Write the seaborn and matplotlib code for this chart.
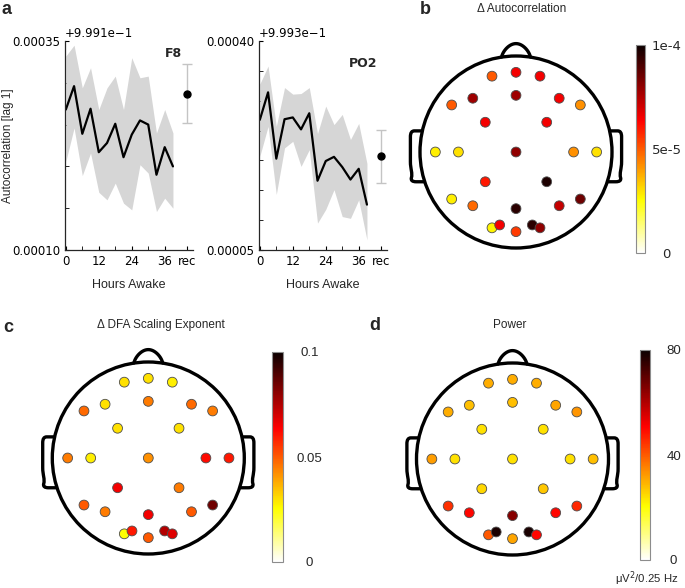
import numpy as np
import matplotlib
matplotlib.use("Agg")
import matplotlib.pyplot as plt
import seaborn as sns
from matplotlib.patches import Circle, PathPatch
from matplotlib.path import Path
from matplotlib.ticker import FixedLocator, ScalarFormatter, MultipleLocator
from matplotlib.colors import Normalize
from matplotlib.cm import ScalarMappable

W, H = 685, 588

# ---- panel a: autocorrelation over hours awake (values relative to offset) ----
hours = [0, 3, 6, 9, 12, 15, 18, 21, 24, 27, 30, 33, 36, 39]
rec_hour = 44

F8_BASE = 0.9991
f8_mean = [0.000268, 0.000296, 0.000239, 0.000269, 0.000217, 0.000228, 0.000251,
           0.000211, 0.000238, 0.000255, 0.000250, 0.000190, 0.000223, 0.000200]
f8_upper = [0.000332, 0.000345, 0.000294, 0.000318, 0.000268, 0.000294, 0.000308,
            0.000268, 0.000330, 0.000306, 0.000308, 0.000240, 0.000268, 0.000240]
f8_lower = [0.000206, 0.000246, 0.000189, 0.000216, 0.000169, 0.000160, 0.000180,
            0.000156, 0.000148, 0.000202, 0.000192, 0.000146, 0.000162, 0.000150]
f8_rec = 0.000287
f8_rec_err = 0.0000355

PO2_BASE = 0.9993
po2_mean = [0.000268, 0.000314, 0.000203, 0.000269, 0.000272, 0.000252, 0.000279,
            0.000166, 0.000199, 0.000206, 0.000189, 0.000168, 0.000186, 0.000126]
po2_upper = [0.000328, 0.000358, 0.000257, 0.000322, 0.000311, 0.000312, 0.000322,
             0.000245, 0.000291, 0.000260, 0.000277, 0.000235, 0.000262, 0.000195]
po2_lower = [0.000207, 0.000257, 0.000143, 0.000221, 0.000232, 0.000190, 0.000218,
             0.000095, 0.000118, 0.000151, 0.000106, 0.000103, 0.000134, 0.000067]
po2_rec = 0.000207
po2_rec_err = 0.0000445

x_ticks = [0, 12, 24, 36, 44]
x_ticklabels = ["0", "12", "24", "36", "rec"]
x_minor = [6, 18, 30]

# ---- topographic maps: electrode positions (head radius = 1) ----
elec_x = [-0.25, 0.0, 0.25, -0.67, -0.45, 0.0, 0.45, 0.67, -0.32, 0.32,
          -0.84, -0.60, 0.0, 0.60, 0.84, -0.32, 0.32, -0.67, -0.45, 0.0,
          0.45, 0.67, -0.25, -0.17, 0.0, 0.17, 0.25]
elec_y = [0.79, 0.83, 0.79, 0.49, 0.56, 0.59, 0.56, 0.49, 0.31, 0.31,
          0.0, 0.0, 0.0, 0.0, 0.0, -0.31, -0.31, -0.49, -0.56, -0.59,
          -0.56, -0.49, -0.79, -0.76, -0.83, -0.76, -0.79]

d_autocorr = [5.0e-5, 6.5e-5, 6.5e-5, 5.0e-5, 7.8e-5, 7.8e-5, 6.5e-5, 4.2e-5, 6.5e-5, 6.5e-5,
              2.8e-5, 3.0e-5, 8.0e-5, 4.2e-5, 3.0e-5, 6.0e-5, 9.7e-5, 2.8e-5, 4.8e-5, 9.5e-5,
              7.2e-5, 8.5e-5, 2.7e-5, 6.5e-5, 5.5e-5, 9.5e-5, 8.0e-5]
d_dfa = [0.030, 0.030, 0.028, 0.048, 0.030, 0.045, 0.048, 0.045, 0.030, 0.030,
         0.045, 0.028, 0.042, 0.062, 0.060, 0.065, 0.045, 0.050, 0.045, 0.065,
         0.050, 0.085, 0.025, 0.060, 0.050, 0.075, 0.068]
power = [30, 30, 30, 30, 28, 28, 31, 33, 24, 24,
         32, 24, 24, 24, 28, 25, 27, 45, 50, 65,
         50, 46, 40, 78, 31, 78, 50]

cb_autocorr_ticks = [0, 5e-5, 1e-4]
cb_autocorr_labels = ["0", "5e-5", "1e-4"]
cb_dfa_ticks = [0, 0.05, 0.1]
cb_dfa_labels = ["0", "0.05", "0.1"]
cb_power_ticks = [0, 40, 80]
cb_power_labels = ["0", "40", "80"]

sns.set_style("ticks")
plt.rcParams.update({
    "xtick.direction": "in",
    "ytick.direction": "in",
    "axes.linewidth": 0.9,
    "xtick.major.size": 3, "ytick.major.size": 3,
    "xtick.minor.size": 3, "ytick.minor.size": 3,
})
plt.rcParams["font.family"] = ["DejaVu Sans"]
LABEL_FONT = "Liberation Sans"

fig = plt.figure(figsize=(W / 100, H / 100), dpi=100)


def px_axes(x0, y0, x1, y1):
    return fig.add_axes([x0 / W, 1 - y1 / H, (x1 - x0) / W, (y1 - y0) / H])


def line_panel(ax, base, mean, lower, upper, rec, rec_err, name, name_pos, ylims):
    ax.fill_between(hours, base + np.array(lower), base + np.array(upper),
                    color="#d6d6d6", linewidth=0)
    sns.lineplot(x=hours, y=base + np.array(mean), color="black", linewidth=1.6, ax=ax)
    ax.errorbar(rec_hour, base + rec, yerr=rec_err, fmt="o", color="black", ms=5,
                ecolor="#c4c4c4", elinewidth=1, capsize=3.5)
    ax.set_xlim(-0.3, 46.3)
    ax.set_ylim(base + ylims[0], base + ylims[1])
    ax.xaxis.set_major_locator(FixedLocator(x_ticks))
    ax.set_xticklabels(x_ticklabels)
    ax.xaxis.set_minor_locator(FixedLocator(x_minor))
    ax.yaxis.set_major_locator(FixedLocator([base + ylims[0], base + ylims[1]]))
    ax.yaxis.set_minor_locator(MultipleLocator(0.00005))
    ax.yaxis.set_major_formatter(ScalarFormatter(useOffset=base))
    ax.tick_params(which="both", labelsize=8.5, colors="black")
    ax.yaxis.get_offset_text().set_fontsize(8.5)
    sns.despine(ax=ax)
    ax.set_xlabel("Hours Awake", family=LABEL_FONT, fontsize=9)
    ax.xaxis.set_label_coords(0.5, -0.14)
    ax.text(name_pos[0], name_pos[1], name, transform=ax.transAxes, ha="center",
            va="center", fontsize=9, fontweight="bold")


ax_f8 = px_axes(65, 41, 193, 250)
line_panel(ax_f8, F8_BASE, f8_mean, f8_lower, f8_upper, f8_rec, f8_rec_err,
           "F8", (0.846, 0.938), (0.00010, 0.00035))
ax_f8.set_ylabel("Autocorrelation [lag 1]", family=LABEL_FONT, fontsize=8.5)
ax_f8.yaxis.set_label_coords(-0.40, 0.5)

ax_po2 = px_axes(259, 41, 387, 250)
line_panel(ax_po2, PO2_BASE, po2_mean, po2_lower, po2_upper, po2_rec, po2_rec_err,
           "PO2", (0.81, 0.89), (0.00005, 0.00040))

HEAD_R = 96
cmap = matplotlib.colormaps["hot_r"]


def head_panel(cx, cy, values, vmax, cb_box, ticks, labels, pad, cb_font, cb_size):
    half = 1.3 * HEAD_R
    ax = px_axes(cx - half, cy - half, cx + half, cy + half)
    ax.set_xlim(-1.3, 1.3)
    ax.set_ylim(-1.3, 1.3)
    ax.axis("off")
    lw = 2.4
    ax.add_patch(Circle((0, 0), 1, fill=False, lw=lw, ec="black"))
    t = np.linspace(0, np.pi, 60)
    ax.plot(0.15 * np.cos(t) * (1 - 0.2 * np.sin(t)), 0.989 + 0.14 * np.sin(t),
            color="black", lw=lw, solid_capstyle="round")
    for s in (-1, 1):
        pts = [(0.975, 0.22), (1.06, 0.22), (1.10, 0.22), (1.10, 0.16), (1.10, -0.10),
               (1.10, -0.18), (1.075, -0.22), (1.09, -0.27), (1.10, -0.31),
               (1.04, -0.31), (0.955, -0.31)]
        codes = [Path.MOVETO, Path.LINETO, Path.CURVE3, Path.CURVE3, Path.LINETO,
                 Path.CURVE4, Path.CURVE4, Path.CURVE4, Path.CURVE3, Path.CURVE3,
                 Path.LINETO]
        verts = [(s * x, y) for x, y in pts]
        ax.add_patch(PathPatch(Path(verts, codes), fill=False, lw=lw, ec="black",
                               joinstyle="round"))
    sns.scatterplot(x=elec_x, y=elec_y, hue=values, palette=cmap, hue_norm=(0, vmax),
                    s=50, edgecolor="0.3", linewidth=0.6, legend=False, ax=ax, zorder=3)
    cax = px_axes(*cb_box)
    cb = fig.colorbar(ScalarMappable(norm=Normalize(0, vmax), cmap=cmap), cax=cax)
    cb.outline.set_edgecolor("0.55")
    cb.outline.set_linewidth(0.8)
    cb.set_ticks(ticks)
    cb.set_ticklabels(labels)
    cax.tick_params(length=0, pad=pad, labelsize=cb_size)
    for lab in cax.get_yticklabels():
        lab.set_ha("center")
        lab.set_family(cb_font)
    return ax, cax


head_panel(516, 152, d_autocorr, 1e-4, (636, 45, 645, 253),
           cb_autocorr_ticks, cb_autocorr_labels, 15.5, "DejaVu Sans", 9.5)
head_panel(148.3, 458, d_dfa, 0.1, (272, 352, 283, 562),
           cb_dfa_ticks, cb_dfa_labels, 19, LABEL_FONT, 9.5)
head_panel(512.5, 459, power, 80, (640, 350, 650, 560),
           cb_power_ticks, cb_power_labels, 17, LABEL_FONT, 9.5)

# titles and panel letters
def ftext(x, y, s, **kw):
    fig.text(x / W, 1 - y / H, s, ha="center", va="center", family=LABEL_FONT, **kw)

ftext(522, 9, "Δ Autocorrelation", fontsize=8.5)
ftext(161, 325, "Δ DFA Scaling Exponent", fontsize=8.5)
ftext(510, 325, "Power", fontsize=8.5)
ftext(647, 579, "μV$^2$/0.25 Hz", fontsize=8.2)
for letter, (lx, ly) in {"a": (7, 10), "b": (425, 9), "c": (8, 327), "d": (375, 325)}.items():
    ftext(lx, ly, letter, fontsize=13, fontweight="bold")

fig.savefig("out.png", dpi=100)
